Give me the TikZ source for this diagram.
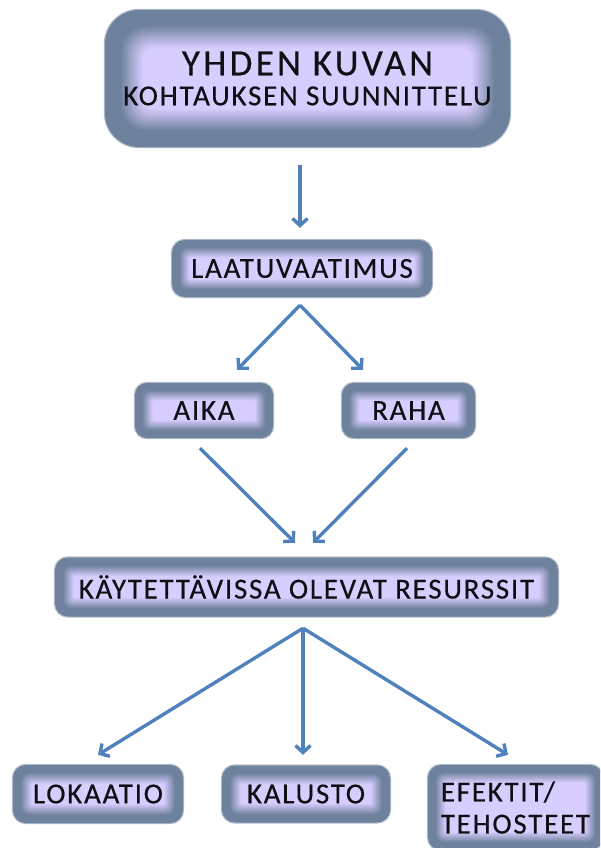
\documentclass[tikz,border=0pt]{standalone}
\usepackage{fontspec}
\setmainfont{Carlito}
\newfontfamily\boxfont{Carlito}[LetterSpace=6,FakeBold=0.4]
\usetikzlibrary{arrows.meta}
\definecolor{slate}{RGB}{110,130,157}
\definecolor{lav}{RGB}{216,205,255}
\definecolor{arrowblue}{RGB}{79,129,189}
\definecolor{txt}{RGB}{15,15,20}
\tikzset{
  glowbox/.style 2 args={rounded corners=#2, fill=slate, draw=none, inner sep=0pt,
    font=\boxfont\fontsize{29}{32}\selectfont, text=txt,
    preaction={draw=slate!55, line width=2.4pt},
    path picture={
      \foreach \i in {0,...,15}{
        \pgfmathsetmacro\ins{#1*(0.5+0.05*\i)}
        \pgfmathsetmacro\mix{\i*100/15}
        \pgfmathsetmacro\rr{max(#2-\ins*0.6,2)}
        \fill[lav!\mix!slate, rounded corners=\rr pt]
          ([shift={(\ins pt,\ins pt)}]path picture bounding box.south west) rectangle
          ([shift={(-\ins pt,-\ins pt)}]path picture bounding box.north east);
      }
    }},
  arr/.style={draw=arrowblue, line width=3.4pt, -{Straight Barb[length=7pt,width=15pt]}}
}
\begin{document}
\begin{tikzpicture}[x=1pt,y=-1pt]
\useasboundingbox (0,0) rectangle (600,848);
\clip (0,0) rectangle (600,848);
\node[glowbox={30}{34}, minimum width=405pt, minimum height=137pt, align=center] (top) at (307.5,78.5)
  {{\fontsize{37}{40}\selectfont\addfontfeatures{LetterSpace=9}YHDEN KUVAN}\\[-2pt]KOHTAUKSEN SUUNNITTELU};
\node[glowbox={14}{13}, minimum width=260pt, minimum height=57pt] (laatu) at (302,268.5) {LAATUVAATIMUS};
\node[glowbox={14}{12}, minimum width=138pt, minimum height=55pt] (aika) at (204,410.5) {AIKA};
\node[glowbox={14}{12}, minimum width=133pt, minimum height=55pt] (raha) at (408.5,410.5) {RAHA};
\node[glowbox={15}{13}, minimum width=503pt, minimum height=59pt] (res) at (306.5,587) {KÄYTETTÄVISSA OLEVAT RESURSSIT};
\node[glowbox={15}{13}, minimum width=170pt, minimum height=58pt] (lok) at (98,794) {LOKAATIO};
\node[glowbox={15}{13}, minimum width=168pt, minimum height=57pt] (kal) at (306,794) {KALUSTO};
\node[glowbox={14}{13}, minimum width=175pt, minimum height=85pt, align=left] (efe) at (515.5,807.5) {EFEKTIT/\\TEHOSTEET};
\draw[arr] ([shift={(-7.5,17.5)}]top.south) -- ([shift={(-2,-12)}]laatu.north);
\draw[arr] ([shift={(-2,8)}]laatu.south) -- ([shift={(33,-13)}]aika.north);
\draw[arr] ([shift={(-2,8)}]laatu.south) -- ([shift={(-45.5,-13)}]raha.north);
\draw[arr] ([shift={(-4,10)}]aika.south) -- ([shift={(-11.5,-14.5)}]res.north);
\draw[arr] ([shift={(-1.5,10)}]raha.south) -- ([shift={(6.5,-14.5)}]res.north);
\draw[arr] ([shift={(-3.5,11.5)}]res.south) -- ([shift={(0,-10)}]lok.north);
\draw[arr] ([shift={(-3.5,11.5)}]res.south) -- ([shift={(-3,-10.5)}]kal.north);
\draw[arr] ([shift={(-3.5,11.5)}]res.south) -- ([shift={(-7.5,-10)}]efe.north);
\end{tikzpicture}
\end{document}
